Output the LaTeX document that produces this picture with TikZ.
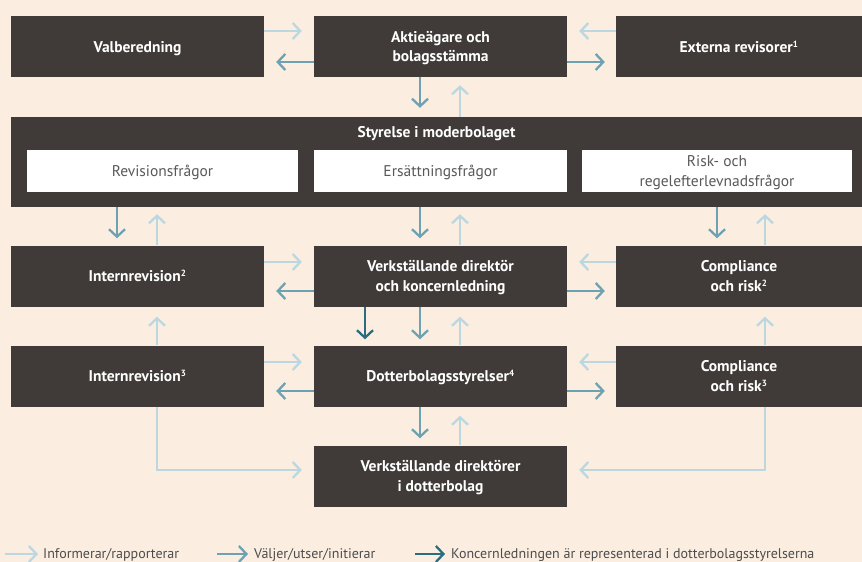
\documentclass[tikz,border=0pt]{standalone}
\usepackage{fontspec}
\setmainfont{PT Sans}
\usetikzlibrary{arrows.meta,calc}
\definecolor{bg}{HTML}{FBEEE1}
\definecolor{boxc}{HTML}{403B38}
\definecolor{lt}{HTML}{BBD8E1}
\definecolor{md}{HTML}{6EA2B2}
\definecolor{dk}{HTML}{2B6D80}
\newcommand{\sps}[1]{\textsuperscript{\fontsize{9}{9}\selectfont #1}}
\begin{document}
\begin{tikzpicture}[x=1pt,y=-1pt,
 dbox/.style={fill=boxc,text=white,font=\bfseries\fontsize{15.5}{19.5}\selectfont,align=center,inner sep=0,minimum height=61pt,text depth=0pt},
 wbox/.style={fill=white,text=black!65,font=\fontsize{15.5}{19.5}\selectfont,align=center,inner sep=0,minimum height=42pt,text depth=0pt},
 arr/.style={line width=2.3pt,-{Straight Barb[length=7.5pt,width=16pt,line width=2.3pt]}},
 la/.style={arr,lt},
 ma/.style={arr,md},
 da/.style={arr,dk},
 leg/.style={anchor=west,inner sep=0,text=black!70,font=\fontsize{14}{16}\selectfont}
]
\fill[bg] (0,0) rectangle (862,562);
\useasboundingbox (0,0) rectangle (862,562);

% row 1
\node[dbox,minimum width=253pt] (val) at (137.5,46.5) {Valberedning};
\node[dbox,minimum width=253pt] (ak) at (440.5,46.5) {Aktieägare och\\bolagsstämma};
\node[dbox,minimum width=246pt] (ext) at (739,46.5) {Externa revisorer\sps{1}};

% styrelse
\node[fill=boxc,minimum width=851pt,minimum height=90pt,inner sep=0] (sty) at (436.5,162) {};
\node[text=white,font=\bfseries\fontsize{15.5}{18}\selectfont,inner sep=0] (stt) at (436.5,134) {Styrelse i moderbolaget};
\node[wbox,minimum width=271pt] (w1) at (162.5,171) {Revisionsfrågor};
\node[wbox,minimum width=253pt] (w2) at (440.5,171) {Ersättningsfrågor};
\node[wbox,minimum width=270pt] (w3) at (717,171) {Risk- och\\regelefterlevnadsfrågor};

% row 3
\node[dbox,minimum width=253pt] (ir2) at (137.5,276) {Internrevision\sps{2}};
\node[dbox,minimum width=253pt] (vd) at (440.5,276) {Verkställande direktör\\och koncernledning};
\node[dbox,minimum width=246pt] (cr2) at (739,276) {Compliance\\och risk\sps{2}};

% row 4
\node[dbox,minimum width=253pt] (ir3) at (137.5,376) {Internrevision\sps{3}};
\node[dbox,minimum width=253pt] (dot) at (440.5,376) {Dotterbolagsstyrelser\sps{4}};
\node[dbox,minimum width=246pt] (cr3) at (739,376) {Compliance\\och risk\sps{3}};

% bottom
\node[dbox,minimum width=253pt] (vdd) at (440.5,476) {Verkställande direktörer\\i dotterbolag};

% horizontal arrows row 1
\draw[la,shorten >=12pt] (val.east |- 0,31) -- (ak.west |- 0,31);
\draw[ma,shorten >=12pt] (ak.west |- 0,62) -- (val.east |- 0,62);
\draw[la,shorten >=12pt] (ext.west |- 0,31) -- (ak.east |- 0,31);
\draw[ma,shorten >=11pt] (ak.east |- 0,62) -- (ext.west |- 0,62);

% row 1 to styrelse
\draw[ma,shorten >=9pt] (ak.south -| 420,0) -- (sty.north -| 420,0);
\draw[la,shorten >=8pt] (sty.north -| 460,0) -- (ak.south -| 460,0);

% styrelse to row 3
\draw[ma,shorten >=7pt] (sty.south -| 117,0) -- (ir2.north -| 117,0);
\draw[la,shorten >=7pt] (ir2.north -| 157,0) -- (sty.south -| 157,0);
\draw[ma,shorten >=7pt] (sty.south -| 420,0) -- (vd.north -| 420,0);
\draw[la,shorten >=7pt] (vd.north -| 460,0) -- (sty.south -| 460,0);
\draw[ma,shorten >=7pt] (sty.south -| 717,0) -- (cr2.north -| 717,0);
\draw[la,shorten >=7pt] (cr2.north -| 765,0) -- (sty.south -| 765,0);

% horizontal arrows row 3
\draw[la,shorten >=12pt] (ir2.east |- 0,262) -- (vd.west |- 0,262);
\draw[ma,shorten >=12pt] (vd.west |- 0,291) -- (ir2.east |- 0,291);
\draw[la,shorten >=12pt] (cr2.west |- 0,262) -- (vd.east |- 0,262);
\draw[ma,shorten >=11pt] (vd.east |- 0,291) -- (cr2.west |- 0,291);

% row 3 to row 4
\draw[la,shorten >=10pt] (ir3.north -| 157,0) -- (ir2.south -| 157,0);
\draw[da,shorten >=6pt] (vd.south -| 365,0) -- (dot.north -| 365,0);
\draw[ma,shorten >=6pt] (vd.south -| 420,0) -- (dot.north -| 420,0);
\draw[la,shorten >=10pt] (dot.north -| 460,0) -- (vd.south -| 460,0);
\draw[la,shorten >=10pt] (cr3.north -| 765,0) -- (cr2.south -| 765,0);

% horizontal arrows row 4
\draw[la,shorten >=12pt] (ir3.east |- 0,362) -- (dot.west |- 0,362);
\draw[ma,shorten >=12pt] (dot.west |- 0,391) -- (ir3.east |- 0,391);
\draw[la,shorten >=12pt] (cr3.west |- 0,362) -- (dot.east |- 0,362);
\draw[ma,shorten >=11pt] (dot.east |- 0,391) -- (cr3.west |- 0,391);

% row 4 to bottom
\draw[ma,shorten >=7pt] (dot.south -| 420,0) -- (vdd.north -| 420,0);
\draw[la,shorten >=9pt] (vdd.north -| 460,0) -- (dot.south -| 460,0);
\draw[la,shorten >=12pt] (ir3.south -| 157,0) |- (vdd.west |- 0,470);
\draw[la,shorten >=12pt] (cr3.south -| 765,0) |- (vdd.east |- 0,470);

% legend
\coordinate (l1a) at (5,554); \coordinate (l1b) at (38,554);
\coordinate (l2a) at (217,554); \coordinate (l2b) at (248,554);
\coordinate (l3a) at (415,554); \coordinate (l3b) at (445,554);
\draw[la] (l1a) -- (l1b);
\node[leg] (t1) at (43,555) {Informerar/rapporterar};
\draw[ma] (l2a) -- (l2b);
\node[leg] (t2) at (254,555) {Väljer/utser/initierar};
\draw[da] (l3a) -- (l3b);
\node[leg] (t3) at (451,555) {Koncernledningen är representerad i dotterbolagsstyrelserna};
\end{tikzpicture}
\end{document}
